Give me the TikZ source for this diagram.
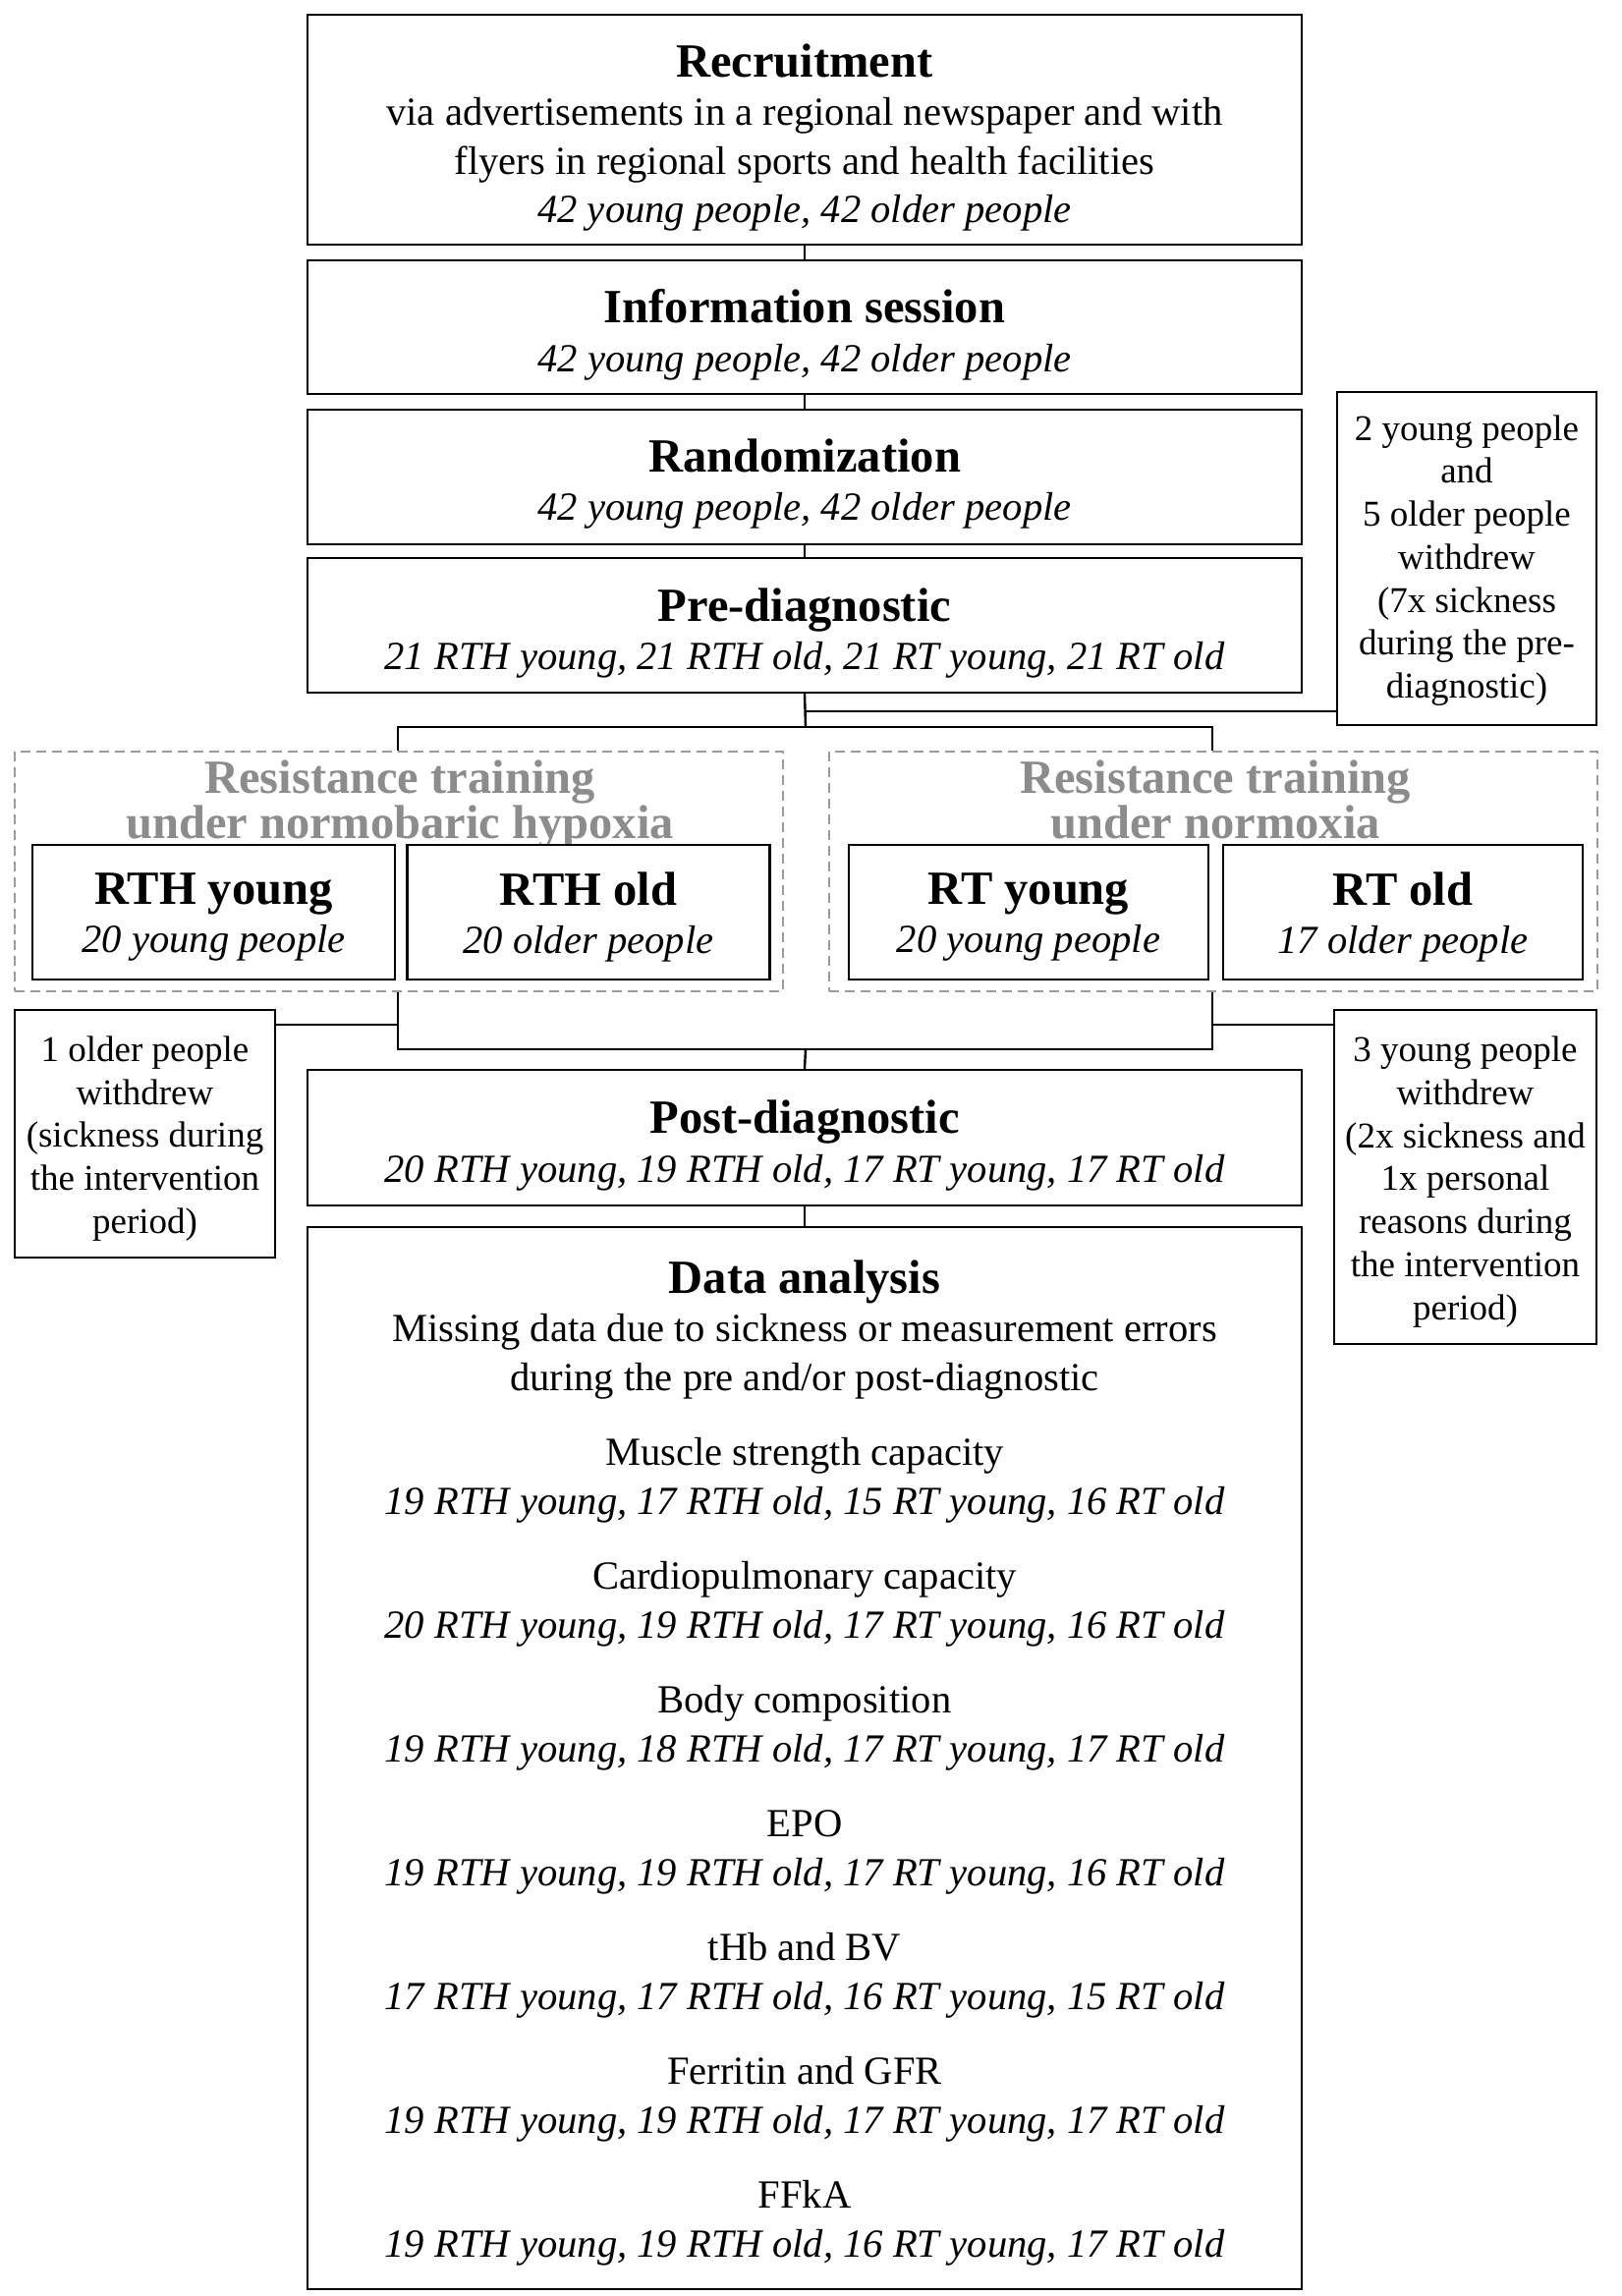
\documentclass[tikz,border=0pt]{standalone}
\usepackage{fontspec}
\setmainfont{Liberation Serif}
\newcommand\bodyfont{\fontsize{40.6}{49.5}\selectfont}
\newcommand\hdfont{\fontsize{48.5}{49.5}\selectfont\bfseries}
\newcommand\sidefont{\fontsize{37}{43.7}\selectfont}
\newcommand\grpfont{\fontsize{48.5}{41}\selectfont\bfseries}
\definecolor{grptext}{HTML}{8C8C8C}
\definecolor{grpline}{HTML}{9A9A9A}
\begin{document}
\begin{tikzpicture}[x=1pt,y=-1pt,
  mainbox/.style={draw, line width=2.4pt, fill=white, inner sep=0pt, minimum width=1012pt},
  subbox/.style={draw, line width=2.4pt, fill=white, inner sep=0pt, minimum width=369pt, minimum height=137pt},
  sidebox/.style={draw, line width=2.4pt, fill=white, inner sep=0pt},
  bodytxt/.style={align=center, inner sep=0pt, font=\bodyfont},
  sidetxt/.style={align=center, inner sep=0pt, font=\sidefont},
  grpbox/.style={draw=grpline, line width=2pt, dash pattern=on 10pt off 6pt, minimum width=782pt, minimum height=244pt, inner sep=0pt},
  grptitle/.style={text=grptext, align=center, font=\grpfont, inner sep=0pt},
  conn/.style={line width=2.4pt}]
\useasboundingbox[fill=white] (0,0) rectangle (1650,2337);

% main column
\node[mainbox, minimum height=234pt] (rec) at (819,132) {};
\node[bodytxt, yshift=-8pt] (rect) at (rec.center)
  {{\hdfont Recruitment}\\via advertisements in a regional newspaper and with\\flyers in regional sports and health facilities\\\textit{42 young people, 42 older people}};
\node[mainbox, minimum height=136pt] (info) at (819,333) {};
\node[bodytxt, yshift=-8pt] (infot) at (info.center)
  {{\hdfont Information session}\\\textit{42 young people, 42 older people}};
\node[mainbox, minimum height=137pt] (rand) at (819,485.5) {};
\node[bodytxt, yshift=-7pt] (randt) at (rand.center)
  {{\hdfont Randomization}\\\textit{42 young people, 42 older people}};
\node[mainbox, minimum height=137pt] (pre) at (819,636.5) {};
\node[bodytxt, yshift=-8pt] (pret) at (pre.center)
  {{\hdfont Pre-diagnostic}\\\textit{21 RTH young, 21 RTH old, 21 RT young, 21 RT old}};

% withdrawal box 1
\node[sidebox, minimum width=264pt, minimum height=339pt] (wd1) at (1493,568.5) {};
\node[sidetxt, yshift=-2pt] (wd1t) at (wd1.center)
  {2 young people\\and\\5 older people\\withdrew\\(7x sickness\\during the pre-\\diagnostic)};

% groups
\node[grpbox] (grpL) at (406,887) {};
\node[grpbox] (grpR) at (1235,887) {};
\node[grptitle] (gtL) at (407,819) {Resistance training\\under normobaric hypoxia};
\node[grptitle] (gtR) at (1237,819) {Resistance training\\under normoxia\vphantom{y}};

\node[subbox] (rthy) at (217.5,928.5) {};
\node[bodytxt, yshift=-5pt] (rthyt) at (rthy.center) {{\hdfont RTH young}\\\textit{20 young people}};
\node[subbox] (rtho) at (599,928.5) {};
\node[bodytxt, yshift=-5pt] (rthot) at (rtho.center) {{\hdfont RTH old}\\\textit{20 older people}};
\node[subbox, minimum width=366pt] (rty) at (1047,928.5) {};
\node[bodytxt, yshift=-5pt] (rtyt) at (rty.center) {{\hdfont RT young}\\\textit{20 young people}};
\node[subbox, minimum width=366pt] (rto) at (1428,928.5) {};
\node[bodytxt, yshift=-5pt] (rtot) at (rto.center) {{\hdfont RT old}\\\textit{17 older people}};

% withdrawal boxes 2 and 3
\node[sidebox, minimum width=265pt, minimum height=252pt] (wd2) at (147.5,1154) {};
\node[sidetxt, yshift=-5pt] (wd2t) at (wd2.center)
  {1 older people\\withdrew\\(sickness during\\the intervention\\period)};
\node[sidebox, minimum width=267pt, minimum height=340pt] (wd3) at (1491.5,1198) {};
\node[sidetxt, yshift=-5pt] (wd3t) at (wd3.center)
  {3 young people\\withdrew\\(2x sickness and\\1x personal\\reasons during\\the intervention\\period)};

\node[mainbox, minimum height=138pt] (post) at (819,1158) {};
\node[bodytxt, yshift=-8pt] (postt) at (post.center)
  {{\hdfont Post-diagnostic}\\\textit{20 RTH young, 19 RTH old, 17 RT young, 17 RT old}};

\node[mainbox, minimum height=1081pt] (da) at (819,1789.5) {};
\node[bodytxt, yshift=-5pt] (dat) at (da.center)
  {{\hdfont Data analysis}\\
   Missing data due to sickness or measurement errors\\
   during the pre and/or post-diagnostic\\[27pt]
   Muscle strength capacity\\
   \textit{19 RTH young, 17 RTH old, 15 RT young, 16 RT old}\\[27pt]
   Cardiopulmonary capacity\\
   \textit{20 RTH young, 19 RTH old, 17 RT young, 16 RT old}\\[27pt]
   Body composition\\
   \textit{19 RTH young, 18 RTH old, 17 RT young, 17 RT old}\\[27pt]
   EPO\\
   \textit{19 RTH young, 19 RTH old, 17 RT young, 16 RT old}\\[27pt]
   tHb and BV\\
   \textit{17 RTH young, 17 RTH old, 16 RT young, 15 RT old}\\[27pt]
   Ferritin and GFR\\
   \textit{19 RTH young, 19 RTH old, 17 RT young, 17 RT old}\\[27pt]
   FFkA\\
   \textit{19 RTH young, 19 RTH old, 16 RT young, 17 RT old}};

% connectors
\coordinate (br) at (820,740);
\coordinate (brL) at (405,740);
\coordinate (brR) at (1234,740);
\coordinate (w1) at (820,724);
\coordinate (jL) at (405,1068);
\coordinate (jR) at (1234,1068);
\coordinate (jC) at (820,1068);
\coordinate (hL) at (405,1043);
\coordinate (hR) at (1234,1043);

\draw[conn] (rec.south) -- (info.north);
\draw[conn] (info.south) -- (rand.north);
\draw[conn] (rand.south) -- (pre.north);
\draw[conn] (pre.south) -- (br);
\draw[conn] (w1) -- (w1 -| wd1.west);
\draw[conn] (brL |- grpL.north) -- (brL) -- (brR) -- (brR |- grpR.north);
\draw[conn] (jL |- grpL.south) -- (jL) -- (jR) -- (jR |- grpR.south);
\draw[conn] (jC) -- (post.north);
\draw[conn] (hL) -- (hL -| wd2.east);
\draw[conn] (hR) -- (hR -| wd3.west);
\draw[conn] (post.south) -- (da.north);
\end{tikzpicture}
\end{document}
